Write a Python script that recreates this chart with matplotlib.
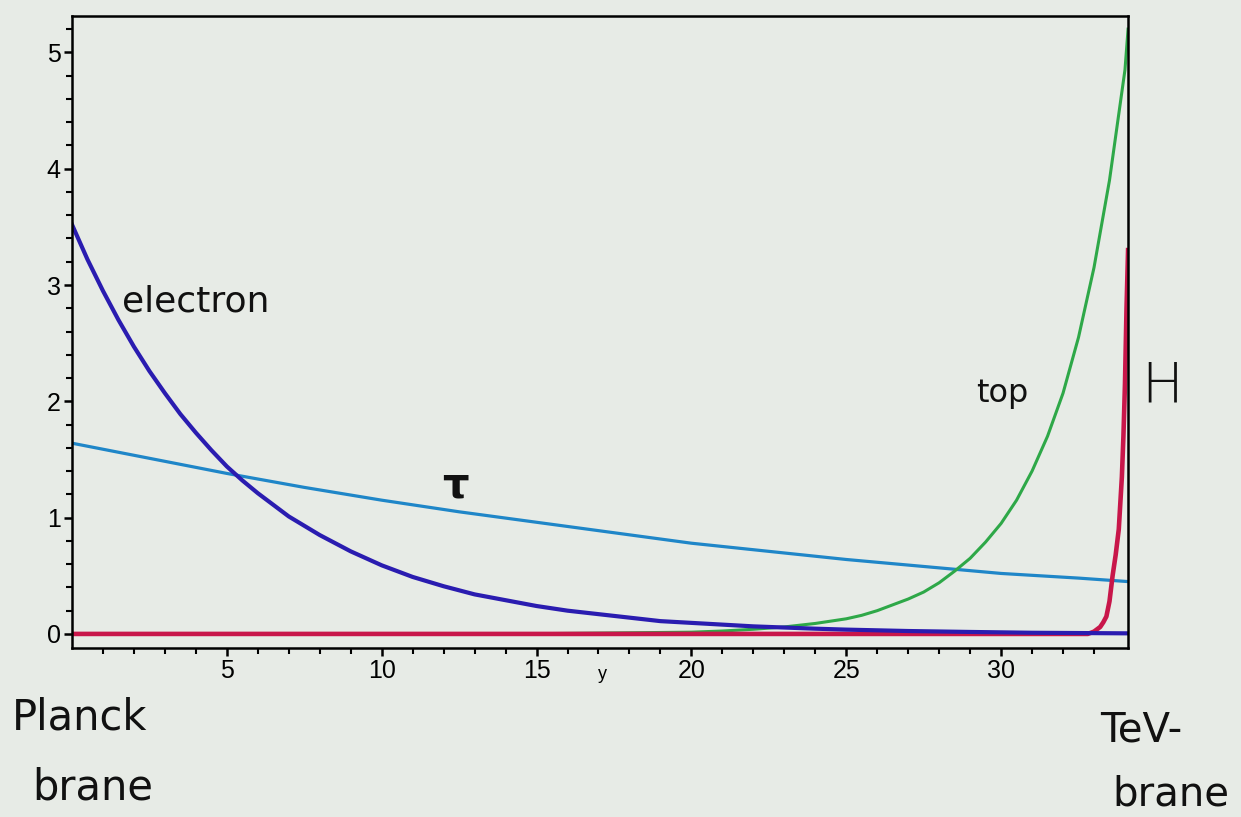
import numpy as np
import matplotlib.pyplot as plt

# values
x_e = [0, 0.5, 1, 1.5, 2, 2.5, 3, 3.5, 4, 4.5, 5, 5.5, 6, 7, 8, 9, 10, 11,
       12, 13, 14, 15, 16, 17, 18, 19, 20, 21, 22, 23, 24, 25, 27, 29, 31, 34.1]
electron = [3.52, 3.22, 2.95, 2.70, 2.47, 2.26, 2.07, 1.89, 1.73, 1.58, 1.44,
            1.32, 1.21, 1.01, 0.85, 0.71, 0.59, 0.49, 0.41, 0.34, 0.29, 0.24,
            0.20, 0.17, 0.14, 0.11, 0.095, 0.08, 0.065, 0.055, 0.045, 0.037,
            0.025, 0.017, 0.01, 0.005]

x_tau = [0, 2.5, 5, 7.5, 10, 12.5, 15, 17.5, 20, 22.5, 25, 27.5, 30, 32.5, 34.1]
tau = [1.64, 1.51, 1.38, 1.26, 1.15, 1.05, 0.96, 0.87, 0.78, 0.71, 0.64,
       0.58, 0.52, 0.48, 0.45]

x_top = [0, 10, 15, 20, 21, 22, 23, 24, 25, 25.5, 26, 26.5, 27, 27.5, 28,
         28.5, 29, 29.5, 30, 30.5, 31, 31.5, 32, 32.5, 33, 33.5, 34, 34.1]
top = [0.0, 0.0, 0.002, 0.015, 0.025, 0.04, 0.06, 0.09, 0.13, 0.16, 0.2, 0.25,
       0.3, 0.36, 0.44, 0.54, 0.65, 0.79, 0.95, 1.15, 1.4, 1.7, 2.07, 2.55,
       3.15, 3.9, 4.85, 5.2]

x_h = [0, 32.6, 32.8, 32.9, 33.0, 33.1, 33.2, 33.3, 33.4, 33.5, 33.6, 33.7,
       33.8, 33.9, 33.95, 34.0, 34.05, 34.1]
higgs = [0.0, 0.0, 0.0, 0.01, 0.02, 0.04, 0.06, 0.1, 0.15, 0.28, 0.5,
         0.68, 0.9, 1.35, 1.7, 2.15, 2.8, 3.3]

bg = '#e7ebe6'
fig = plt.figure(figsize=(12.41, 8.17), dpi=100, facecolor=bg)
ax = fig.add_axes([0.058, 0.207, 0.851, 0.773], facecolor=bg)

ax.plot(x_tau, tau, color='#1f86c8', lw=2.3)
ax.plot(x_top, top, color='#2ea848', lw=2.2)
ax.plot(x_h, higgs, color='#c8164a', lw=3.3)
ax.plot(x_e, electron, color='#2a1cb0', lw=3.0)

ax.set_xlim(0, 34.1)
ax.set_ylim(-0.12, 5.31)
ax.set_xticks([5, 10, 15, 20, 25, 30])
ax.set_xticks(np.arange(1, 34, 1), minor=True)
ax.set_yticks([0, 1, 2, 3, 4, 5])
ax.set_yticks(np.arange(0, 5.3, 0.2), minor=True)
ax.tick_params(which='major', direction='out', length=6, width=1.8,
               labelsize=18, pad=2)
ax.tick_params(which='minor', direction='out', length=4, width=1.5)
for lab in ax.get_xticklabels() + ax.get_yticklabels():
    lab.set_family('Liberation Sans')
for s in ax.spines.values():
    s.set_linewidth(1.8)

ax.text(0.5025, -0.028, 'y', transform=ax.transAxes, ha='center', va='top',
        fontsize=13, family='Liberation Sans')

# handwritten notes
hand = dict(family='DejaVu Sans', color='#111111')
fig.text(122 / 1241, 1 - 302 / 817, 'electron', fontsize=26, va='center', **hand)
fig.text(455 / 1241, 1 - 485 / 817, 'τ', fontsize=30, ha='center',
         va='center', weight='bold', **hand)
fig.text(1002 / 1241, 1 - 393 / 817, 'top', fontsize=23, ha='center',
         va='center', **hand)
fig.text(1162 / 1241, 1 - 387 / 817, 'H', fontsize=40, ha='center',
         va='center', weight='light', **hand)
fig.text(12 / 1241, 1 - 718 / 817, 'Planck', fontsize=30, va='center', **hand)
fig.text(32 / 1241, 1 - 788 / 817, 'brane', fontsize=30, va='center', **hand)
fig.text(1100 / 1241, 1 - 730 / 817, 'TeV-', fontsize=29, va='center', **hand)
fig.text(1112 / 1241, 1 - 795 / 817, 'brane', fontsize=29, va='center', **hand)

fig.savefig('out.png', dpi=100, facecolor=bg)
